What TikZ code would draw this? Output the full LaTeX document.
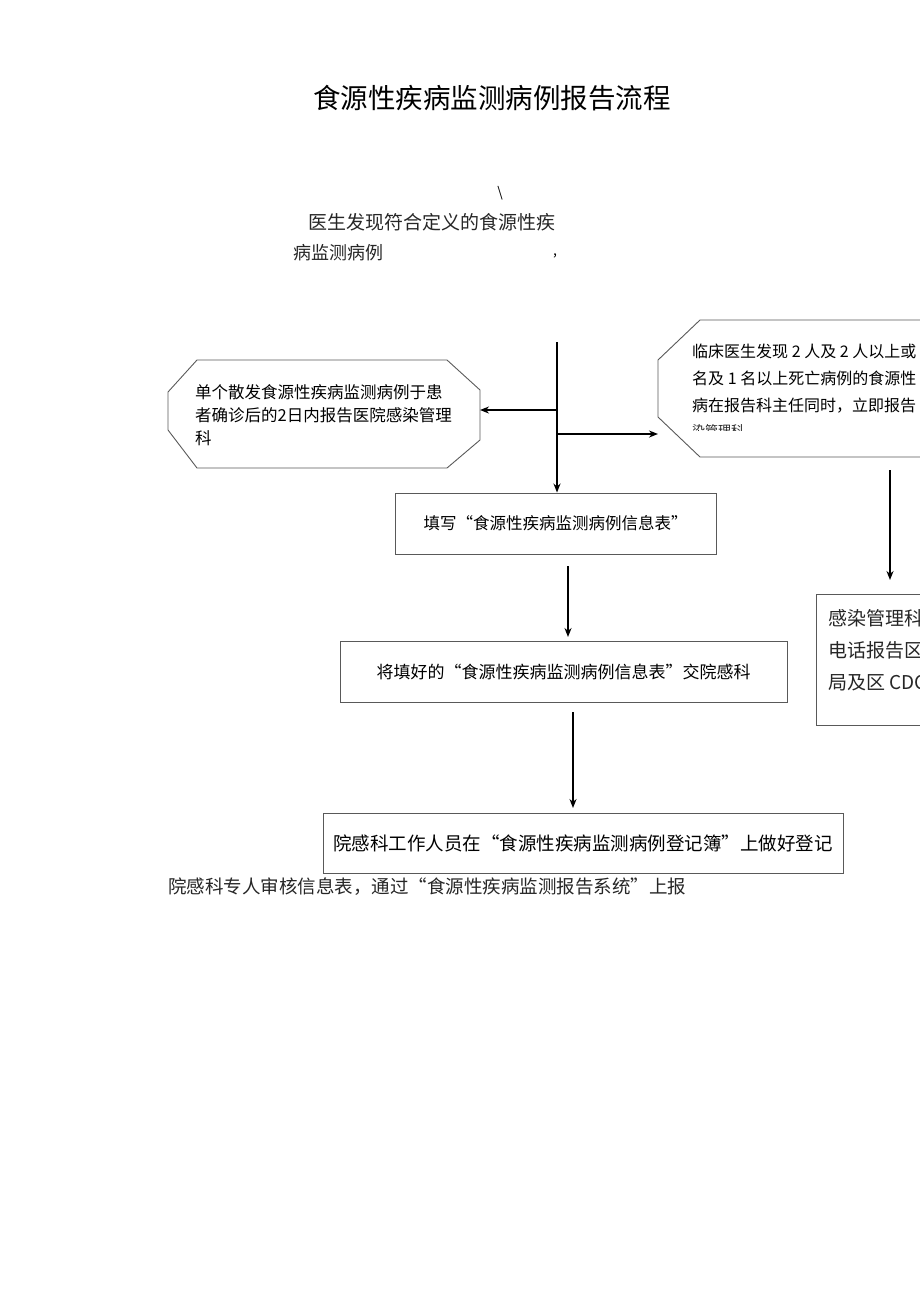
\documentclass[tikz,border=0pt]{standalone}
\usepackage{fontspec}
\setmainfont{Noto Sans CJK SC}
\usetikzlibrary{arrows.meta}
\begin{document}
\begin{tikzpicture}[x=1pt,y=-1pt,
  boxline/.style={draw=black!65,line width=0.9pt},
  arr/.style={draw=black,line width=1.6pt,-{Stealth[length=9pt,width=7pt]}},
  txt/.style={inner sep=0pt,anchor=west,text=black!85},
  bx/.style={boxline,inner sep=0pt,minimum height=61pt}]
\useasboundingbox (0,0) rectangle (920,1301);
\clip (0,0) rectangle (920,1301);
% title
\node[inner sep=0pt,font=\fontsize{27.5}{30}\selectfont] (title) at (492,98) {食源性疾病监测病例报告流程};
\node[inner sep=0pt,font=\fontsize{14}{16}\selectfont] (bs) at (500,193) {\textbackslash};
\node[txt,font=\fontsize{19}{22}\selectfont] (start1) at (308,222) {医生发现符合定义的食源性疾};
\node[txt,font=\fontsize{18}{22}\selectfont] (start2) at (293,253) {病监测病例};
\node[inner sep=0pt,font=\fontsize{14}{16}\selectfont] (comma) at (555,256) {,};
% left octagon
\draw[boxline] (197,360) -- (447,360) -- (480,390) -- (480,440) -- (447,468) -- (197,468) -- (168,430) -- (168,392) -- cycle;
\coordinate (lefte) at (480,410);
\node[txt,font=\fontsize{16.5}{23}\selectfont,text=black,align=left,anchor=north west] (lefttxt) at (195,384) {单个散发食源性疾病监测病例于患\\者确诊后的2日内报告医院感染管理\\科};
% right octagon
\draw[boxline] (940,320) -- (700,320) -- (658,360) -- (658,417) -- (700,457) -- (940,457);
\coordinate (rightw) at (658,434);
\node[txt,font=\fontsize{16}{27}\selectfont,text=black,align=left,anchor=north west] (righttxt) at (692,344) {临床医生发现 2 人及 2 人以上或\\名及 1 名以上死亡病例的食源性\\病在报告科主任同时，立即报告};
\begin{scope}
\clip (680,420) rectangle (800,430.5);
\node[txt,font=\fontsize{13}{15}\selectfont] (right4) at (692,431) {染管理科};
\end{scope}
% main boxes
\node[bx,minimum width=321pt,font=\fontsize{16.5}{20}\selectfont] (b1) at (555.5,523.5) {填写“食源性疾病监测病例信息表”};
\node[bx,minimum width=447pt,font=\fontsize{17}{20}\selectfont] (b2) at (563.5,671.5) {将填好的“食源性疾病监测病例信息表”交院感科};
\node[bx,minimum width=520pt,minimum height=60pt,font=\fontsize{18.5}{20}\selectfont] (b3) at (583,843) {院感科工作人员在“食源性疾病监测病例登记簿”上做好登记};
% right box
\draw[boxline] (940,594) -- (816,594) -- (816,725) -- (940,725);
\node[txt,font=\fontsize{19}{32}\selectfont,align=left,anchor=north west] (rbtxt) at (828,609) {感染管理科\\电话报告区\\局及区 CDC};
% bottom text
\node[txt,font=\fontsize{18.5}{20}\selectfont] (last) at (168,887) {院感科专人审核信息表，通过“食源性疾病监测报告系统”上报};
% connectors
\coordinate (trunk) at (557,342);
\coordinate (jl) at (557,410);
\coordinate (jr) at (557,434);
\draw[arr] (trunk) -- (trunk |- b1.north);
\draw[arr] (jl) -- (lefte);
\draw[arr] (jr) -- (rightw);
\coordinate (ro) at (890,470);
\coordinate (rbn) at (890,580);
\draw[arr] (ro) -- (rbn);
\coordinate (a2s) at (568,566);
\coordinate (a2e) at (568,637);
\draw[arr] (a2s) -- (a2e);
\coordinate (a3s) at (573,712);
\coordinate (a3e) at (573,808);
\draw[arr] (a3s) -- (a3e);
\end{tikzpicture}
\end{document}
